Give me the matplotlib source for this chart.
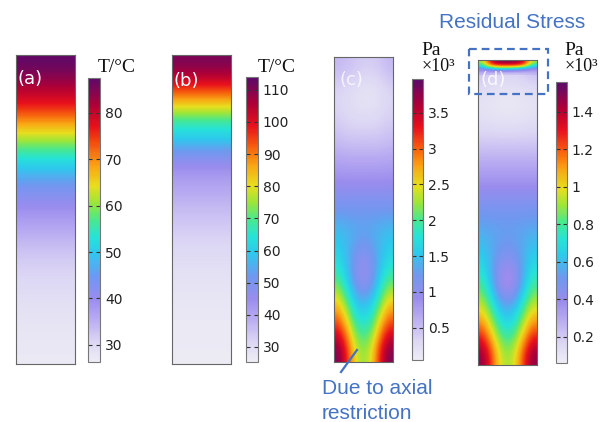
import matplotlib.pyplot as plt
import numpy as np
from matplotlib.colors import LinearSegmentedColormap, Normalize
from matplotlib.patches import Rectangle

# Temperature profiles along the height (top -> bottom), in degC
temp_a = [87, 82.5, 77.5, 69, 60, 52, 45.5, 41, 37.5, 34.5, 32, 30.5, 29.2, 28.3, 27.6, 27.2]
temp_b = [111, 100, 83, 67, 58, 46, 41, 37.5, 34.5, 32, 30, 28.5, 27.5, 26.8, 26.2, 25.9]

# Stress fields (x10^3 Pa), rows top -> bottom, columns left -> right
stress_c = [
    [0.55, 0.5, 0.45, 0.4, 0.4, 0.45, 0.55],
    [0.3, 0.25, 0.2, 0.15, 0.15, 0.2, 0.3],
    [0.35, 0.3, 0.25, 0.25, 0.25, 0.3, 0.35],
    [0.5, 0.45, 0.45, 0.45, 0.45, 0.45, 0.5],
    [0.72, 0.7, 0.7, 0.7, 0.7, 0.7, 0.72],
    [0.95, 0.95, 0.95, 0.95, 0.95, 0.95, 0.95],
    [1.2, 1.2, 1.2, 1.2, 1.2, 1.2, 1.2],
    [1.5, 1.45, 1.4, 1.35, 1.4, 1.45, 1.5],
    [1.65, 1.45, 1.15, 1.0, 1.15, 1.45, 1.65],
    [2.0, 1.6, 1.1, 0.85, 1.1, 1.6, 2.0],
    [2.6, 2.1, 1.6, 1.45, 1.6, 2.1, 2.6],
    [3.2, 2.7, 2.0, 1.85, 2.0, 2.7, 3.2],
    [3.85, 3.3, 2.5, 2.2, 2.5, 3.3, 3.85],
]
stress_d = [
    [0.25, 0.22, 0.2, 0.2, 0.2, 0.22, 0.25],
    [0.1, 0.09, 0.08, 0.08, 0.08, 0.09, 0.1],
    [0.12, 0.11, 0.1, 0.1, 0.1, 0.11, 0.12],
    [0.2, 0.2, 0.2, 0.2, 0.2, 0.2, 0.2],
    [0.3, 0.3, 0.3, 0.3, 0.3, 0.3, 0.3],
    [0.4, 0.4, 0.4, 0.4, 0.4, 0.4, 0.4],
    [0.5, 0.5, 0.5, 0.5, 0.5, 0.5, 0.5],
    [0.58, 0.56, 0.55, 0.54, 0.55, 0.56, 0.58],
    [0.66, 0.58, 0.48, 0.44, 0.48, 0.58, 0.66],
    [0.78, 0.6, 0.38, 0.3, 0.38, 0.6, 0.78],
    [0.95, 0.8, 0.62, 0.55, 0.62, 0.8, 0.95],
    [1.2, 1.0, 0.8, 0.72, 0.8, 1.0, 1.2],
    [1.48, 1.28, 1.0, 0.9, 1.0, 1.28, 1.48],
]
# thin residual stress band at the top of (d)
stress_d_top = [
    [0.9, 1.35, 1.5, 1.52, 1.5, 1.35, 0.9],
    [0.75, 1.2, 1.3, 1.3, 1.3, 1.2, 0.75],
    [0.45, 0.55, 0.65, 0.65, 0.6, 0.5, 0.4],
    [0.25, 0.22, 0.2, 0.2, 0.2, 0.22, 0.25],
]

ranges = {'a': (26.3, 87.5), 'b': (25.3, 114), 'c': (0.05, 3.97), 'd': (0.06, 1.56)}
ticks_a = [30, 40, 50, 60, 70, 80]
ticks_b = [30, 40, 50, 60, 70, 80, 90, 100, 110]
ticks_c = [0.5, 1, 1.5, 2, 2.5, 3, 3.5]
ticks_d = [0.2, 0.4, 0.6, 0.8, 1, 1.2, 1.4]

# COMSOL-like "rainbow light" colour table
cmap = LinearSegmentedColormap.from_list('rainbowlight', [
    (0.00, '#eeedf5'), (0.07, '#dcd6f4'), (0.15, '#b9abf2'), (0.22, '#9a8cee'),
    (0.30, '#6f98f0'), (0.38, '#2fc8ee'), (0.44, '#26e3d8'), (0.50, '#49e88f'),
    (0.56, '#9be63a'), (0.62, '#e8de1e'), (0.69, '#f9a514'), (0.76, '#f65a0e'),
    (0.83, '#e8101c'), (0.91, '#ac0038'), (1.00, '#5a0a6a')])

W, H = 603, 422
BLUE = '#4472C4'
fig = plt.figure(figsize=(W / 100, H / 100), dpi=100)


def px_axes(x0, y0, x1, y1):
    return fig.add_axes([x0 / W, 1 - y1 / H, (x1 - x0) / W, (y1 - y0) / H])


def draw_field(box, data, norm, extra=None):
    ax = px_axes(*box)
    im = ax.imshow(data, cmap=cmap, norm=norm, interpolation='bicubic',
                   interpolation_stage='data', aspect='auto', extent=(0, 1, 0, 1))
    if extra is not None:
        ax.imshow(extra, cmap=cmap, norm=norm, interpolation='bicubic',
                  interpolation_stage='data', aspect='auto', extent=(0, 1, 0.95, 1))
    ax.set_xlim(0, 1)
    ax.set_ylim(0, 1)
    ax.set_xticks([])
    ax.set_yticks([])
    for s in ax.spines.values():
        s.set_color('#666666')
        s.set_linewidth(0.8)
    return im


def draw_cbar(box, im, ticks):
    cax = px_axes(*box)
    cb = fig.colorbar(im, cax=cax, ticks=ticks, format='%g')
    cb.outline.set_edgecolor('#777777')
    cb.outline.set_linewidth(0.8)
    cax.yaxis.set_ticks_position('both')
    cax.tick_params(direction='in', length=3, width=0.8, color='#333333',
                    labelsize=10, labelcolor='#222222', pad=3.5,
                    labelleft=False, labelright=True)


norm_a = Normalize(*ranges['a'])
norm_b = Normalize(*ranges['b'])
norm_c = Normalize(*ranges['c'])
norm_d = Normalize(*ranges['d'])

im_a = draw_field((16, 55, 75, 364), np.tile(np.array(temp_a)[:, None], (1, 2)), norm_a)
im_b = draw_field((172, 55, 231, 364), np.tile(np.array(temp_b)[:, None], (1, 2)), norm_b)
im_c = draw_field((334, 57, 393, 362), np.array(stress_c), norm_c)
im_d = draw_field((478, 60, 537, 365), np.array(stress_d), norm_d, np.array(stress_d_top))

draw_cbar((88, 78, 100, 362), im_a, ticks_a)
draw_cbar((246, 77, 258, 362), im_b, ticks_b)
draw_cbar((412, 79, 423, 360), im_c, ticks_c)
draw_cbar((556, 82, 567, 363), im_d, ticks_d)

# overlay in pixel coordinates for labels and annotations
ov = fig.add_axes([0, 0, 1, 1])
ov.set_xlim(0, W)
ov.set_ylim(H, 0)
ov.axis('off')
ov.patch.set_visible(False)

serif = 'Liberation Serif'
ov.text(98, 67, 'T/°C', family=serif, fontsize=14, va='center', ha='left', color='#111111')
ov.text(258, 67, 'T/°C', family=serif, fontsize=14, va='center', ha='left', color='#111111')
for x in (421, 564):
    ov.text(x, 55, 'Pa', family=serif, fontsize=14, va='baseline', ha='left', color='#111111')
    ov.text(x + 1, 71, '×10³', family=serif, fontsize=13, va='baseline', ha='left',
            color='#111111')

for x, y, lab, a in [(30, 79, '(a)', 1.0), (186, 81, '(b)', 1.0),
                     (351, 80, '(c)', 0.75), (493, 80, '(d)', 0.85)]:
    ov.text(x, y, lab, color='white', alpha=a, fontsize=13, ha='center', va='center')

ov.text(512, 22, 'Residual Stress', family='Liberation Sans', fontsize=15,
        color=BLUE, ha='center', va='center')
ov.add_patch(Rectangle((469, 49), 79, 45, fill=False, edgecolor=BLUE,
                       linewidth=1.6, linestyle=(0, (3.5, 2.2))))

ov.plot([357, 341], [350, 372], color=BLUE, linewidth=1.6)
ov.text(322, 394, 'Due to axial', family='Liberation Sans', fontsize=15,
        color=BLUE, ha='left', va='baseline')
ov.text(322, 419, 'restriction', family='Liberation Sans', fontsize=15,
        color=BLUE, ha='left', va='baseline')

fig.savefig('out.png', dpi=100)
